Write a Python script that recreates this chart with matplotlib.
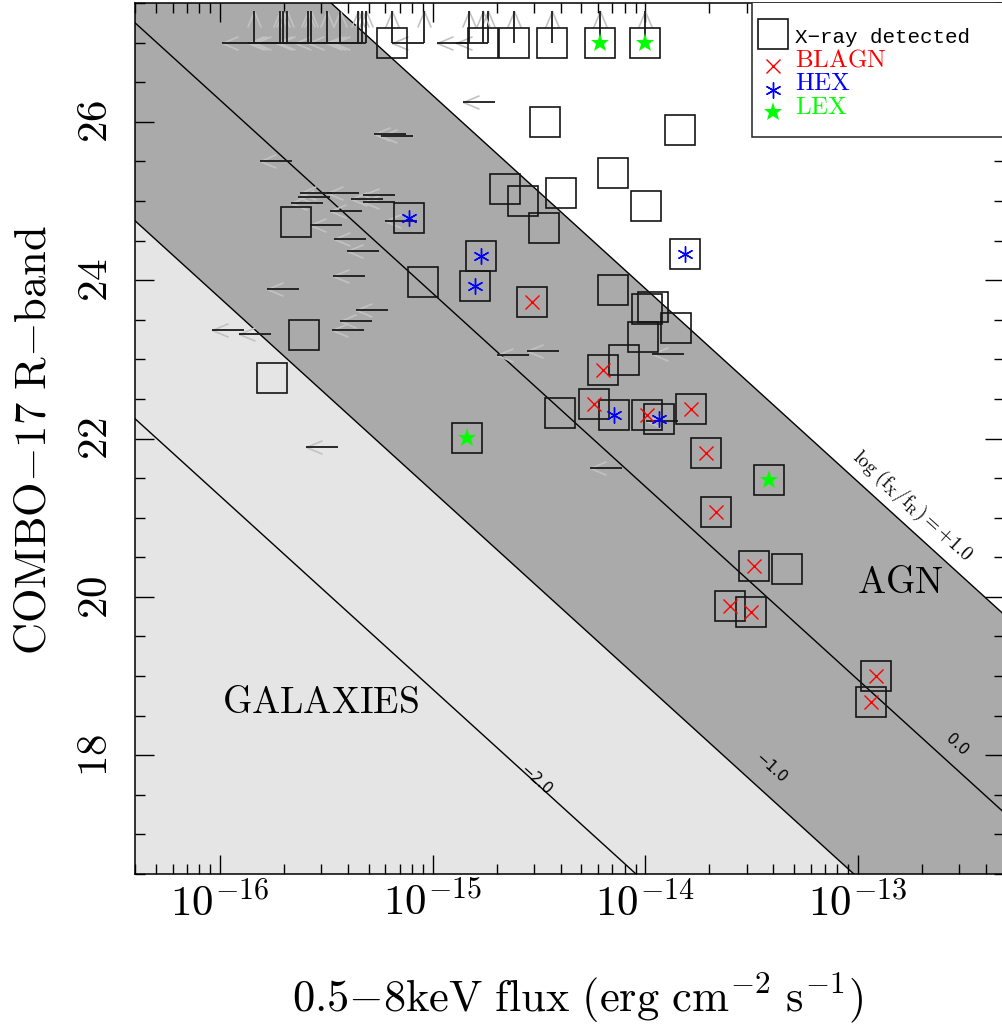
import numpy as np
import matplotlib
matplotlib.use("Agg")
import matplotlib.pyplot as plt
from matplotlib.path import Path
from matplotlib.ticker import (LogLocator, FixedLocator, MultipleLocator,
                               FuncFormatter, NullFormatter)
from matplotlib.patches import Rectangle

plt.rcParams['mathtext.fontset'] = 'cm'

# ---- X-ray detected sources: 0.5-8 keV flux, R magnitude, optical class ----
det_flux = [6.45e-16, 1.725e-15, 2.42e-15, 3.64e-15, 6.13e-15, 1.00e-14,
            3.39e-15, 1.46e-14, 7.06e-15, 1.006e-14, 4.03e-15, 2.18e-15,
            2.66e-15, 3.33e-15, 1.53e-14, 9.04e-16, 1.695e-15, 1.59e-15,
            2.93e-15, 7.03e-15, 1.017e-14, 1.093e-14, 1.40e-14, 9.73e-15,
            7.92e-15, 6.36e-15, 5.77e-15, 3.97e-15, 7.10e-15, 1.014e-14,
            1.166e-14, 1.65e-14, 1.94e-14, 1.457e-15, 3.81e-14, 2.14e-14,
            3.24e-14, 4.63e-14, 2.50e-14, 3.13e-14, 1.215e-13, 1.155e-13,
            7.77e-16, 2.28e-16, 2.49e-16, 1.75e-16]
det_R = [27.0, 27.0, 27.0, 27.0, 27.0, 27.0,
         26.0, 25.90, 25.35, 24.94, 25.10, 25.15,
         25.00, 24.66, 24.33, 23.98, 24.30, 23.93,
         23.72, 23.87, 23.63, 23.66, 23.40, 23.28,
         22.99, 22.87, 22.44, 22.32, 22.30, 22.30,
         22.25, 22.37, 21.82, 22.01, 21.47, 21.07,
         20.39, 20.35, 19.88, 19.81, 19.00, 18.67,
         24.79, 24.74, 23.31, 22.76]
det_class = ['', '', '', '', 'LEX', 'LEX',
             '', '', '', '', '', '',
             '', '', 'HEX', '', 'HEX', 'HEX',
             'BLAGN', '', '', '', '', '',
             '', 'BLAGN', 'BLAGN', '', 'HEX', 'BLAGN',
             'HEX', 'BLAGN', 'BLAGN', 'LEX', 'LEX', 'BLAGN',
             'BLAGN', '', 'BLAGN', 'BLAGN', 'BLAGN', 'BLAGN',
             'HEX', '', '', '']
# detected in X-rays but only an R-band limit
det_Rlimit = [True] * 6 + [False] * 40

# ---- X-ray upper limits for optically detected sources ----
ul_flux = [7.48e-16, 8.04e-16, 2.18e-16, 3.36e-16, 4.51e-16, 6.66e-16,
           3.30e-16, 5.81e-16, 6.66e-16, 3.06e-16, 4.64e-16, 3.74e-16,
           8.43e-16, 4.85e-16, 5.60e-16, 4.81e-16, 2.34e-16, 6.19e-16,
           5.21e-16, 4.76e-16, 1.30e-16, 1.74e-16, 3.60e-16, 2.84e-15,
           3.95e-15, 1.526e-14, 7.77e-15, 1.43e-14, 1.96e-15]
ul_R = [25.85, 25.82, 25.51, 25.10, 25.10, 25.08,
        25.05, 25.02, 24.99, 24.97, 24.87, 24.70,
        24.75, 24.52, 24.37, 24.05, 23.89, 23.62,
        23.49, 23.375, 23.375, 23.32, 21.89, 23.06,
        23.10, 23.07, 21.63, 22.22, 26.245]

# ---- limits in both X-ray flux and R magnitude ----
both_flux = [1.445e-16, 1.916e-16, 1.98e-16, 2.07e-16, 2.59e-16, 2.68e-16,
             3.19e-16, 3.67e-16, 4.46e-16, 4.66e-16, 4.86e-16, 9.12e-16,
             1.486e-15, 1.825e-15]
both_R = [27.0] * 14

# lines of constant log(fX/fR)
ratio_levels = [-2.0, -1.0, 0.0, 1.0]
ratio_labels = ['\u22122.0', '\u22121.0', '0.0']
ZP, SLOPE = -12.766, 2.44

# axis ticks
x_major = [1e-16, 1e-15, 1e-14, 1e-13]
y_major = [18, 20, 22, 24, 26]


def r_of_flux(flux, level):
    return ZP - SLOPE * np.log10(flux) + 2.5 * level


# arrow glyphs (marker paths, origin at the source position)
HW, HL = 0.21, 0.5
left_shaft = Path([(0, 0), (-1, 0)], [Path.MOVETO, Path.LINETO])
left_head = Path([(-1 + HL, HW), (-1, 0), (-1 + HL, -HW)],
                 [Path.MOVETO, Path.LINETO, Path.LINETO])
up_shaft = Path([(0, 0), (0, 1)], [Path.MOVETO, Path.LINETO])
up_head = Path([(-HW, 1 - HL), (0, 1), (HW, 1 - HL)],
               [Path.MOVETO, Path.LINETO, Path.LINETO])

W, H, DPI = 1003, 1024, 100
fig = plt.figure(figsize=(W / DPI, H / DPI), dpi=DPI)
ax = fig.add_axes([135 / W, 1 - 874 / H, 1 - 135 / W + 0.0005, 871 / H])

XMIN, XMAX = 10 ** -16.4, 10 ** -12.315
YMIN, YMAX = 16.5, 27.5
ax.set_xscale('log')
ax.set_xlim(XMIN, XMAX)
ax.set_ylim(YMIN, YMAX)

# shaded regions
xx = np.logspace(-16.6, -12.1, 400)
ax.fill_between(xx, 10, r_of_flux(xx, -1.0), color='#e5e5e5', lw=0, zorder=0)
ax.fill_between(xx, r_of_flux(xx, -1.0), r_of_flux(xx, 1.0), color='#aaaaaa',
                lw=0, zorder=0)
for lev in ratio_levels:
    ax.plot(xx, r_of_flux(xx, lev), color='black', lw=1.0, zorder=1)

ALEN = 46  # marker size giving ~32 px arrows
shaft_kw = dict(ls='none', ms=ALEN, mfc='none', mec='#1a1a1a', mew=1.3, zorder=2)
head_kw = dict(ls='none', ms=ALEN, mfc='none', mec='#c2c2c2', mew=1.2, zorder=2)

# X-ray upper limits
ax.plot(ul_flux, ul_R, marker=left_head, **head_kw)
ax.plot(ul_flux, ul_R, marker=left_shaft, **shaft_kw)
# sources undetected in both bands
ax.plot(both_flux, both_R, marker=left_head, **head_kw)
ax.plot(both_flux, both_R, marker=left_shaft, **shaft_kw)
ax.plot(both_flux, both_R, marker=up_head, **head_kw)
ax.plot(both_flux, both_R, marker=up_shaft, **shaft_kw)
# X-ray detections with R-band limits
lim_f = [f for f, l in zip(det_flux, det_Rlimit) if l]
lim_r = [r for r, l in zip(det_R, det_Rlimit) if l]
ax.plot(lim_f, lim_r, marker=up_head, **head_kw)
ax.plot(lim_f, lim_r, marker=up_shaft, **shaft_kw)

# X-ray detected sources
SQ = 22.3
ax.plot(det_flux, det_R, ls='none', marker='s', ms=SQ, mfc='none', mec='#151515',
        mew=1.2, zorder=3)

class_style = {
    'BLAGN': dict(marker='x', color='#ff0000', ms=9.5, mew=1.0),
    'HEX': dict(marker=(6, 2, 0), color='#0000ff', ms=11.5, mew=1.0),
    'LEX': dict(marker='*', color='#00ff00', ms=14, mew=0),
}
for cls, sty in class_style.items():
    fx = [f for f, c in zip(det_flux, det_class) if c == cls]
    fr = [r for r, c in zip(det_R, det_class) if c == cls]
    ax.plot(fx, fr, ls='none', marker=sty['marker'], ms=sty['ms'],
            color=sty['color'], mec=sty['color'], mew=sty['mew'], zorder=4)

# axes styling
for sp in ax.spines.values():
    sp.set_linewidth(1.1)
ax.xaxis.set_major_locator(FixedLocator(x_major))
ax.xaxis.set_minor_locator(LogLocator(base=10, subs=np.arange(2, 10), numticks=20))
ax.xaxis.set_minor_formatter(NullFormatter())
ax.xaxis.set_major_formatter(FuncFormatter(
    lambda v, p: r'$\mathrm{10^{%d}}$' % round(np.log10(v))))
ax.yaxis.set_major_locator(FixedLocator(y_major))
ax.yaxis.set_minor_locator(MultipleLocator(0.5))
ax.yaxis.set_major_formatter(FuncFormatter(lambda v, p: r'$\mathrm{%d}$' % v))
ax.tick_params(which='both', direction='in', top=True, right=True, width=1.0)
ax.tick_params(which='major', length=14)
ax.tick_params(which='minor', length=7)
ax.tick_params(axis='x', labelsize=31, pad=6)
ax.tick_params(axis='y', labelsize=31, pad=14, labelrotation=90)
for lab in ax.get_yticklabels():
    lab.set_va('center')

ax.set_xlabel(r'$\mathrm{0.5{-}8keV\ flux\ (erg\ cm^{-2}\ s^{-1})}$', fontsize=32)
ax.xaxis.set_label_coords(0.51, -0.1424)
ax.xaxis.label.set_va('center')
ax.set_ylabel(r'$\mathrm{COMBO{-}17\ R{-}band}$', fontsize=32)
ax.yaxis.set_label_coords(-0.118, 0.498)
ax.yaxis.label.set_va('center')

# region names
ax.text(0.2131, 0.1963, r'$\mathrm{GALAXIES}$', transform=ax.transAxes,
        fontsize=27, ha='center', va='center')
ax.text(0.8813, 0.3341, r'$\mathrm{AGN}$', transform=ax.transAxes,
        fontsize=27, ha='center', va='center')

# line labels
ANG = -42.3
ax.text(0.895, 0.4225, r'$\mathrm{log\ (f_X/f_R){=}{+}1.0}$', transform=ax.transAxes,
        fontsize=14, rotation=ANG, rotation_mode='anchor', ha='center', va='center')
for (fx_, fy_), txt in zip([(0.462, 0.1079), (0.7327, 0.1217), (0.9459, 0.1481)],
                           ratio_labels):
    ax.text(fx_, fy_, txt, transform=ax.transAxes, fontsize=11, family='DejaVu Sans',
            rotation=ANG, rotation_mode='anchor', ha='center', va='center')

# legend box
ax.add_patch(Rectangle((0.7105, 0.8465), 0.35, 0.2, transform=ax.transAxes,
                       facecolor='white', edgecolor='#222222', lw=1.1, zorder=5,
                       clip_on=True))
ax.plot([0.7348], [0.9644], transform=ax.transAxes, ls='none', marker='s', ms=SQ,
        mfc='none', mec='#151515', mew=1.2, zorder=6)
ax.text(0.7604, 0.9544, 'X\u2212ray detected', transform=ax.transAxes,
        family='Liberation Mono', fontsize=15, va='baseline', zorder=6)
leg_rows = [('BLAGN', 0.9279, 0.9269), ('HEX', 0.9001, 0.9001), ('LEX', 0.8743, 0.8726)]
for cls, my, ty in leg_rows:
    sty = class_style[cls]
    ax.plot([0.7348], [my], transform=ax.transAxes, ls='none', marker=sty['marker'],
            ms=sty['ms'], color=sty['color'], mec=sty['color'], mew=sty['mew'],
            zorder=6)
    ax.text(0.7604, ty, r'$\mathrm{%s}$' % cls, transform=ax.transAxes,
            color=sty['color'], fontsize=18, va='baseline', zorder=6)

fig.savefig('out.png', dpi=DPI)
